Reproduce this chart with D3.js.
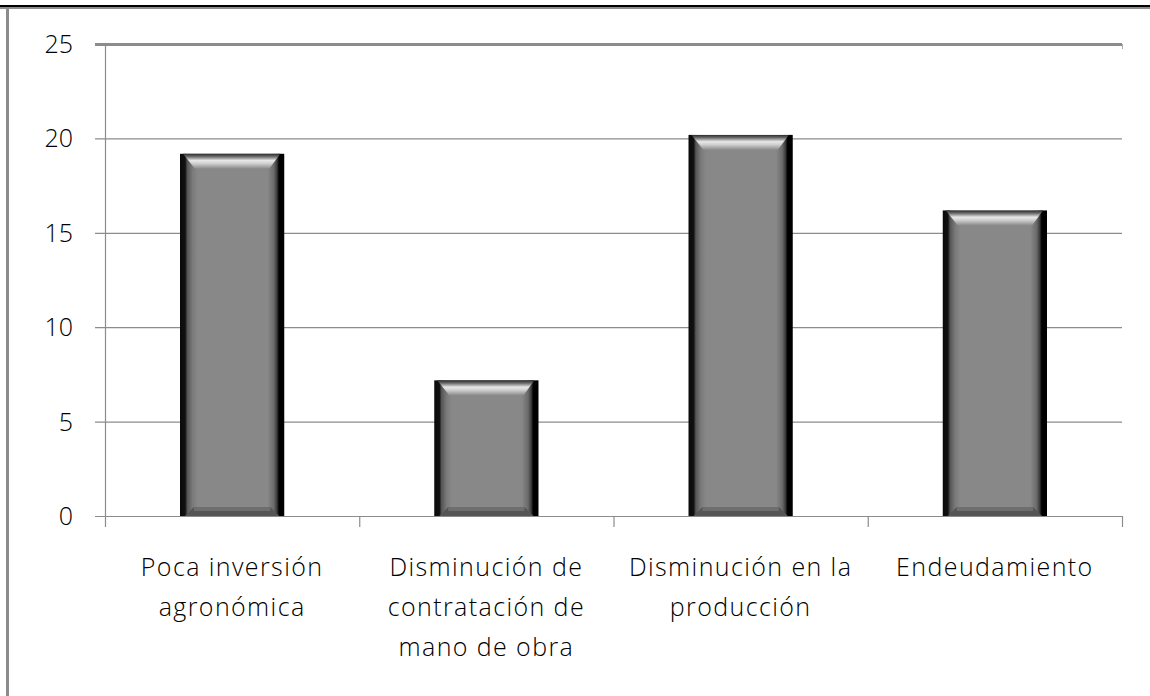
<!DOCTYPE html>
<html>
<head>
<meta charset="utf-8">
<script src="https://cdn.jsdelivr.net/npm/d3@7"></script>
<style>
  body { margin: 0; background: #fff; }
  svg { display: block; }
  text { font-family: "Open Sans", sans-serif; font-weight: 300; fill: #000; }
</style>
</head>
<body>
<svg width="1150" height="696"></svg>
<script>
const categories = ['Poca inversión agronómica', 'Disminución de contratación de mano de obra', 'Disminución en la producción', 'Endeudamiento'];
const labelLines = [['Poca inversión', 'agronómica'], ['Disminución de', 'contratación de', 'mano de obra'], ['Disminución en la', 'producción'], ['Endeudamiento']];
const values = [19, 7, 20, 16];
const yTicks = [0, 5, 10, 15, 20, 25];

const svg = d3.select('svg');
const margin = { left: 105, right: 28, top: 44, bottom: 180 };
const W = 1150, H = 696;
const lift = 3.5; // bevel makes the bars poke a bit above their value

// frame lines
svg.append('rect').attr('x', 0).attr('y', 5).attr('width', W).attr('height', 2).attr('fill', '#000');
svg.append('rect').attr('x', 0).attr('y', 7).attr('width', W).attr('height', 2).attr('fill', '#8c8c8c');
svg.append('rect').attr('x', 6).attr('y', 9).attr('width', 3).attr('height', H - 9).attr('fill', '#8c8c8c');

const x = d3.scaleBand().domain(categories).range([margin.left, W - margin.right]).paddingInner(0.59).paddingOuter(0.295);
const band = d3.scaleBand().domain(categories).range([margin.left, W - margin.right]);
const y = d3.scaleLinear().domain([0, 25]).range([H - margin.bottom, margin.top]);

// gridlines + ticks
svg.append('g').selectAll('line').data(yTicks).join('line')
  .attr('x1', margin.left - 10).attr('x2', W - margin.right)
  .attr('y1', d => y(d) + 0.5).attr('y2', d => y(d) + 0.5)
  .attr('stroke', '#8c8c8c')
  .attr('stroke-width', d => d === 25 ? 3 : 1.2);

svg.append('g').selectAll('text').data(yTicks).join('text')
  .attr('x', 73).attr('y', d => y(d)).attr('dy', '0.36em')
  .attr('text-anchor', 'end').attr('font-size', 25)
  .text(d => d);

// axes lines
svg.append('line').attr('x1', margin.left + 0.5).attr('x2', margin.left + 0.5)
  .attr('y1', margin.top).attr('y2', y(0) + 11).attr('stroke', '#8c8c8c').attr('stroke-width', 1.2);
const bounds = categories.map(c => band(c)).concat([W - margin.right]);
svg.append('g').selectAll('line').data(bounds.slice(1)).join('line')
  .attr('x1', d => d + 0.5).attr('x2', d => d + 0.5)
  .attr('y1', y(0)).attr('y2', y(0) + 11).attr('stroke', '#8c8c8c').attr('stroke-width', 1.2);
svg.append('line').attr('x1', W - margin.right + 0.5).attr('x2', W - margin.right + 0.5)
  .attr('y1', margin.top).attr('y2', margin.top + 5).attr('stroke', '#aaa');

// gradients for the bevelled bars
const defs = svg.append('defs');
const hg = defs.append('linearGradient').attr('id', 'hgrad').attr('x1', 0).attr('x2', 1).attr('y1', 0).attr('y2', 0);
[[0, '#0a0a0a'], [0.05, '#111'], [0.07, '#555'], [0.12, '#7a7a7a'], [0.17, '#888'], [0.84, '#888'], [0.9, '#6a6a6a'], [0.93, '#3a3a3a'], [0.95, '#000'], [1, '#000']]
  .forEach(([o, c]) => hg.append('stop').attr('offset', o).attr('stop-color', c));
const tg = defs.append('linearGradient').attr('id', 'tgrad').attr('x1', 0).attr('x2', 0).attr('y1', 0).attr('y2', 1);
[[0, '#2a2a2a'], [0.2, '#707070'], [0.45, '#e8e8e8'], [0.65, '#cfcfcf'], [1, '#8a8a8a']]
  .forEach(([o, c]) => tg.append('stop').attr('offset', o).attr('stop-color', c));

const bars = svg.append('g').selectAll('g').data(values).join('g');
bars.append('rect')
  .attr('x', (d, i) => x(categories[i])).attr('y', d => y(d) - lift)
  .attr('width', x.bandwidth()).attr('height', d => y(0) - y(d) + lift)
  .attr('fill', 'url(#hgrad)');
// top bevel
bars.append('path')
  .attr('d', (d, i) => {
    const x0 = x(categories[i]), x1 = x0 + x.bandwidth(), t = y(d) - lift;
    return `M${x0 + 3},${t} L${x1 - 4},${t} L${x1 - 15},${t + 15} L${x0 + 15},${t + 15} Z`;
  })
  .attr('fill', 'url(#tgrad)');
// bottom bevel
bars.append('path')
  .attr('d', (d, i) => {
    const x0 = x(categories[i]), x1 = x0 + x.bandwidth(), b = y(0);
    return `M${x0 + 5},${b} L${x1 - 5},${b} L${x1 - 14},${b - 9} L${x0 + 14},${b - 9} Z`;
  })
  .attr('fill', '#555');
bars.append('rect')
  .attr('x', (d, i) => x(categories[i]) + 14).attr('y', d => y(0) - 9)
  .attr('width', x.bandwidth() - 28).attr('height', 4)
  .attr('fill', '#6e6e6e');

// category labels
const lab = svg.append('g').selectAll('text').data(categories).join('text')
  .attr('text-anchor', 'middle').attr('font-size', 25).attr('letter-spacing', 1.4);
lab.selectAll('tspan').data((d, i) => labelLines[i].map(t => ({ t, c: d }))).join('tspan')
  .attr('x', d => band(d.c) + band.bandwidth() / 2)
  .attr('y', (d, j) => 576 + j * 40)
  .text(d => d.t);
</script>
</body>
</html>
